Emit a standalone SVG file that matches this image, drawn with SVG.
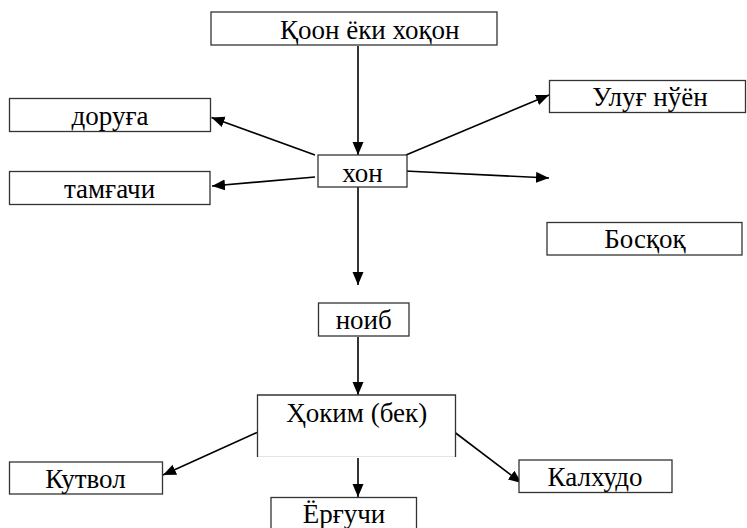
<svg xmlns="http://www.w3.org/2000/svg" width="747" height="528" viewBox="0 0 747 528">
<defs>
<style>
.box{fill:#fff;stroke:#333;stroke-width:1.3}
.t{font-family:"Liberation Serif","Times New Roman","DejaVu Serif",serif;font-size:27px;fill:#000;text-anchor:middle}
.c{stroke:#000;stroke-width:1.6;fill:none;marker-end:url(#ah)}
</style>
<marker id="ah" markerUnits="userSpaceOnUse" markerWidth="14" markerHeight="12" refX="13" refY="5.5" orient="auto">
<path d="M0,0 L13,5.5 L0,11 z" fill="#000"/>
</marker>
</defs>
<rect width="747" height="528" fill="#fff"/>
<g id="connectors">
<line class="c" x1="358" y1="46" x2="358" y2="155"/>
<line class="c" x1="315" y1="155" x2="211.5" y2="117.5"/>
<line class="c" x1="315" y1="177" x2="212" y2="186"/>
<line class="c" x1="406" y1="155" x2="549" y2="95"/>
<line class="c" x1="405" y1="171" x2="549" y2="178"/>
<line class="c" x1="358" y1="187" x2="358" y2="285"/>
<line class="c" x1="358" y1="337" x2="358" y2="395"/>
<line class="c" x1="257" y1="432.5" x2="163" y2="475"/>
<line class="c" x1="358" y1="458" x2="358" y2="497"/>
<line class="c" x1="455" y1="432.5" x2="521.5" y2="483"/>
</g>
<g id="node-qoon">
<rect class="box" x="211" y="12" width="286" height="33"/>
<text class="t" x="280" y="39" style="text-anchor:start">Қоон ёки хоқон</text>
</g>
<g id="node-doruga">
<rect class="box" x="9.5" y="98.5" width="201" height="33"/>
<text class="t" x="110" y="125">доруға</text>
</g>
<g id="node-tamgachi">
<rect class="box" x="9.5" y="171.5" width="200.5" height="33"/>
<text class="t" x="109.5" y="198">тамғачи</text>
</g>
<g id="node-xon">
<rect class="box" x="318" y="155" width="89" height="32"/>
<text class="t" x="362.5" y="181.5">хон</text>
</g>
<g id="node-ulug">
<rect class="box" x="549.5" y="80.5" width="196" height="32"/>
<text class="t" x="650" y="106">Улуғ нўён</text>
</g>
<g id="node-bosqoq">
<rect class="box" x="547" y="222.5" width="195" height="32.5"/>
<text class="t" x="645" y="248">Босқоқ</text>
</g>
<g id="node-noib">
<rect class="box" x="318.5" y="303" width="90.5" height="33"/>
<text class="t" x="363.7" y="329">ноиб</text>
</g>
<g id="node-hokim">
<rect x="257.5" y="395" width="198" height="62" fill="#fff"/>
<line x1="257.5" y1="456.5" x2="455.5" y2="456.5" stroke="#e4e4e4" stroke-width="1"/>
<path d="M257.5,457 V395 H455.5 V457" fill="none" stroke="#333" stroke-width="1.3"/>
<text class="t" x="356.7" y="421.7">Ҳоким (бек)</text>
</g>
<g id="node-kutvol">
<rect class="box" x="9.5" y="462" width="153" height="32"/>
<text class="t" x="85.5" y="488">Кутвол</text>
</g>
<g id="node-yorguchi">
<rect class="box" x="271" y="497.5" width="145.5" height="40"/>
<text class="t" x="344" y="523">Ёрғучи</text>
</g>
<g id="node-kalxudo">
<rect class="box" x="519" y="460" width="153" height="32.5"/>
<text class="t" x="595" y="486">Калхудо</text>
</g>
</svg>
